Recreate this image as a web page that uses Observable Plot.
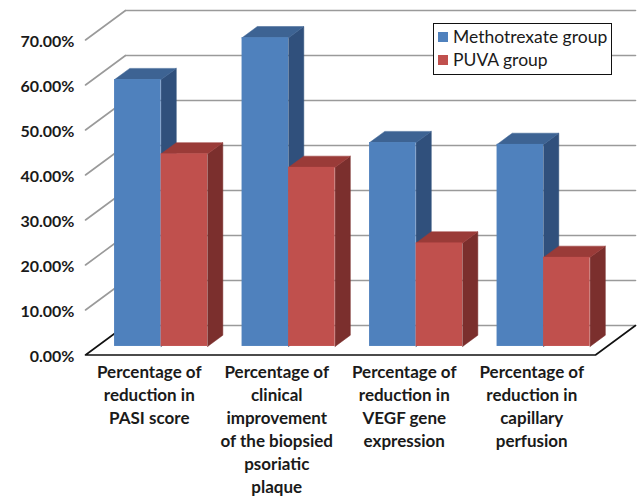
<!DOCTYPE html>
<html>
<head>
<meta charset="utf-8">
<script src="https://cdn.jsdelivr.net/npm/d3@7"></script>
<script src="https://cdn.jsdelivr.net/npm/@observablehq/plot@0.6"></script>
<style>
  body { margin: 0; background: #fff; }
  #wrap { position: relative; width: 637px; height: 496px; }
  .legend {
    position: absolute; left: 433px; top: 23px; width: 179px; height: 52px;
    background: #fff; border: 1.5px solid #111; box-sizing: border-box;
    font: 17.5px Lato, sans-serif; color: #1a1a1a;
  }
  .legend .row { position: absolute; left: 4px; display: flex; align-items: center; white-space: nowrap; line-height: 20px; }
  .legend .sw { width: 10px; height: 10px; margin-right: 5px; }
</style>
</head>
<body>
<div id="wrap"></div>
<script>
// Treatment outcomes (%) per measure
const categories = [
  "Percentage of\nreduction in\nPASI score",
  "Percentage of\nclinical\nimprovement\nof the biopsied\npsoriatic\nplaque",
  "Percentage of\nreduction in\nVEGF gene\nexpression",
  "Percentage of\nreduction in\ncapillary\nperfusion"
];
const seriesNames = ["Methotrexate group", "PUVA group"];
const methotrexate = [59.3, 68.6, 45.3, 44.9];
const puva = [42.8, 39.8, 23.0, 19.8];
const yTicks = [0, 10, 20, 30, 40, 50, 60, 70];

// Face colours: front, top, side
const palette = {
  "Methotrexate group": {front: "#4F81BD", top: "#3D6393", side: "#30507C"},
  "PUVA group": {front: "#C0504D", top: "#9A3B38", side: "#7B2F2D"}
};

// Oblique depth of the floor, in data units (x: category units, y: percent)
const DX = 0.3137, DY = 6.556;
// Bars sit between these depth fractions
const D0 = 0.29, D1 = 0.67;
const GAP = 0.137, BW = 0.365;

const bars = [];
categories.forEach((c, i) => {
  [methotrexate[i], puva[i]].forEach((v, s) => {
    const u0 = i + GAP + s * BW, u1 = u0 + BW;
    bars.push({cat: i, series: seriesNames[s], value: v, u0, u1});
  });
});

// Top and side faces as closed polygons, listed in painter order
const faces = [];
bars.forEach((b, k) => {
  const side = [[b.u1, 0, D0], [b.u1, 0, D1], [b.u1, b.value, D1], [b.u1, b.value, D0]];
  const top = [[b.u0, b.value, D0], [b.u1, b.value, D0], [b.u1, b.value, D1], [b.u0, b.value, D1]];
  [["side", side], ["top", top]].forEach(([kind, pts]) => {
    pts.concat([pts[0]]).forEach(([u, v, d]) => {
      faces.push({id: `${k}-${kind}`, x: u + d * DX, y: v + d * DY, color: palette[b.series][kind]});
    });
  });
});

// Back wall and left wall grid lines
const backGrid = yTicks.flatMap(v => [
  {id: v, x: DX, y: v + DY}, {id: v, x: 4 + DX, y: v + DY}
]);
const sideGrid = yTicks.filter(v => v > 0).flatMap(v => [
  {id: v, x: 0, y: v}, {id: v, x: DX, y: v + DY}
]);
const floorEdge = [
  {x: DX, y: DY}, {x: 0, y: 0}, {x: 4, y: 0}, {x: 4 + DX, y: DY}
];

const chart = Plot.plot({
  width: 637,
  height: 496,
  marginLeft: 85,
  x: {domain: [0, 4], range: [85, 595], axis: null},
  y: {domain: [0, 70], range: [354.5, 39.5]},
  style: {fontFamily: "Lato, sans-serif", fontSize: "16px", fontWeight: "bold", color: "#1a1a1a", background: "#fff"},
  marks: [
    Plot.line(backGrid, {x: "x", y: "y", z: "id", stroke: "#9a9a9a", strokeWidth: 1.6}),
    Plot.line(sideGrid, {x: "x", y: "y", z: "id", stroke: "#9a9a9a", strokeWidth: 1.6}),
    Plot.line(floorEdge, {x: "x", y: "y", stroke: "#111", strokeWidth: 1.6}),
    Plot.line(faces, {x: "x", y: "y", z: "id", fill: "color", stroke: "color", strokeWidth: 0.5, curve: "linear"}),
    Plot.rect(bars, {
      x1: d => d.u0 + D0 * DX, x2: d => d.u1 + D0 * DX,
      y1: D0 * DY, y2: d => d.value + D0 * DY,
      fill: d => palette[d.series].front, inset: 0
    }),
    Plot.axisY(yTicks, {
      anchor: "left", tickSize: 0, tickPadding: 11, label: null,
      tickFormat: d => d.toFixed(2) + "%", fontSize: 16, fontWeight: "bold", dy: 1.5
    }),
    Plot.text(categories, {
      x: (d, i) => i + 0.5, y: 0, text: d => d, dy: 7,
      lineAnchor: "top", lineHeight: 1.35, fontSize: 17, fill: "#1a1a1a"
    })
  ]
});

const wrap = document.getElementById("wrap");
wrap.appendChild(chart);

// Legend box overlaid on the back wall
const legend = document.createElement("div");
legend.className = "legend";
seriesNames.forEach((name, i) => {
  const row = document.createElement("div");
  row.className = "row";
  row.style.top = (i === 0 ? 3 : 26) + "px";
  const sw = document.createElement("span");
  sw.className = "sw";
  sw.style.background = palette[name].front;
  const label = document.createElement("span");
  label.textContent = name;
  row.append(sw, label);
  legend.appendChild(row);
});
wrap.appendChild(legend);
</script>
</body>
</html>
